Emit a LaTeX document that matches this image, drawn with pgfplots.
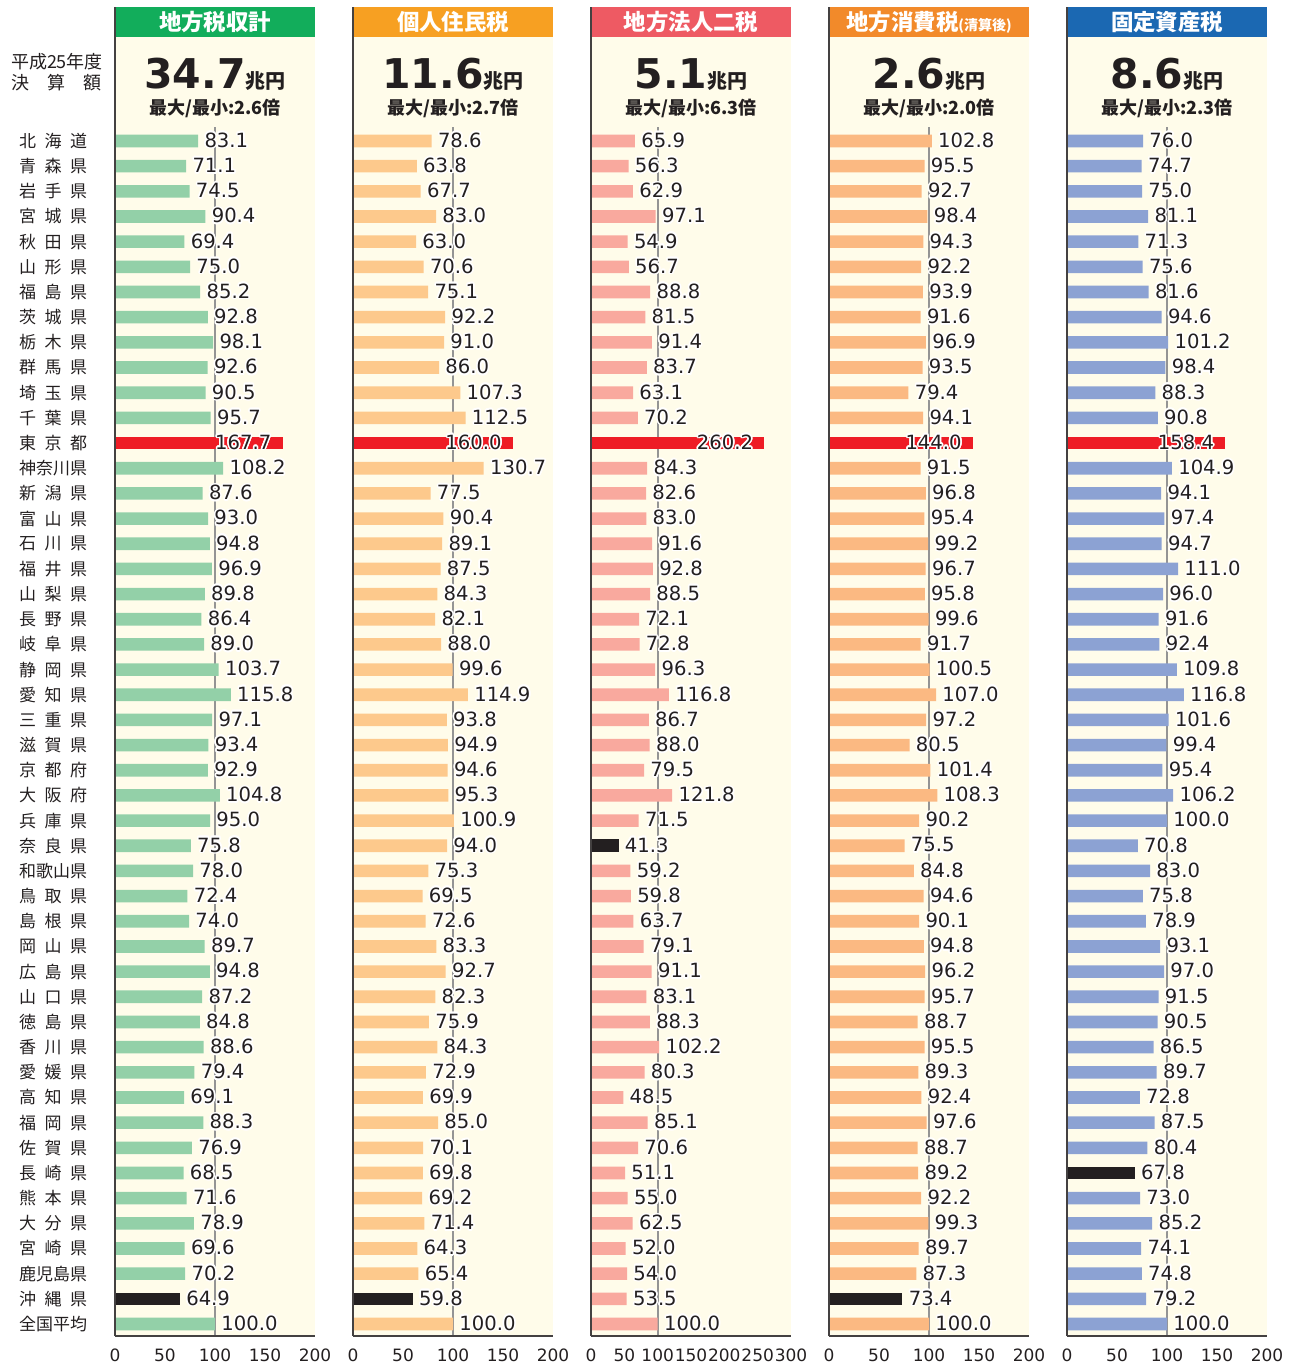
\documentclass[border=0pt]{standalone}
\usepackage{fontspec}
\setmainfont{DejaVu Sans}
\newfontfamily\jp{Noto Sans CJK JP}
\newfontfamily\num{DejaVu Sans}
\usepackage{pgfplots}
\pgfplotsset{compat=1.18}
\usepackage{pgfplotstable}
\usepackage{contour}
\contourlength{0.8pt}
\definecolor{cream}{HTML}{FFFCEA}
\definecolor{txt}{HTML}{231F20}
\definecolor{tred}{HTML}{EE1C25}
\definecolor{tblack}{HTML}{231F20}
\definecolor{ghdr}{HTML}{12AD5B}\definecolor{gbar}{HTML}{93D0A8}
\definecolor{ohdr}{HTML}{F7A022}\definecolor{obar}{HTML}{FDC98C}
\definecolor{rhdr}{HTML}{EE5A63}\definecolor{rbar}{HTML}{F9A99E}
\definecolor{phdr}{HTML}{F28A2A}\definecolor{pbar}{HTML}{FBB982}
\definecolor{bhdr}{HTML}{1B68B2}\definecolor{bbar}{HTML}{8CA2D3}
\newcommand\pn[3]{#1\hspace{0.5em}#2\hspace{0.5em}#3}
\pgfplotstableread{
y v1 v2 v3 v4 v5
48 83.1 78.6 65.9 102.8 76.0
47 71.1 63.8 56.3 95.5 74.7
46 74.5 67.7 62.9 92.7 75.0
45 90.4 83.0 97.1 98.4 81.1
44 69.4 63.0 54.9 94.3 71.3
43 75.0 70.6 56.7 92.2 75.6
42 85.2 75.1 88.8 93.9 81.6
41 92.8 92.2 81.5 91.6 94.6
40 98.1 91.0 91.4 96.9 101.2
39 92.6 86.0 83.7 93.5 98.4
38 90.5 107.3 63.1 79.4 88.3
37 95.7 112.5 70.2 94.1 90.8
36 167.7 160.0 260.2 144.0 158.4
35 108.2 130.7 84.3 91.5 104.9
34 87.6 77.5 82.6 96.8 94.1
33 93.0 90.4 83.0 95.4 97.4
32 94.8 89.1 91.6 99.2 94.7
31 96.9 87.5 92.8 96.7 111.0
30 89.8 84.3 88.5 95.8 96.0
29 86.4 82.1 72.1 99.6 91.6
28 89.0 88.0 72.8 91.7 92.4
27 103.7 99.6 96.3 100.5 109.8
26 115.8 114.9 116.8 107.0 116.8
25 97.1 93.8 86.7 97.2 101.6
24 93.4 94.9 88.0 80.5 99.4
23 92.9 94.6 79.5 101.4 95.4
22 104.8 95.3 121.8 108.3 106.2
21 95.0 100.9 71.5 90.2 100.0
20 75.8 94.0 41.3 75.5 70.8
19 78.0 75.3 59.2 84.8 83.0
18 72.4 69.5 59.8 94.6 75.8
17 74.0 72.6 63.7 90.1 78.9
16 89.7 83.3 79.1 94.8 93.1
15 94.8 92.7 91.1 96.2 97.0
14 87.2 82.3 83.1 95.7 91.5
13 84.8 75.9 88.3 88.7 90.5
12 88.6 84.3 102.2 95.5 86.5
11 79.4 72.9 80.3 89.3 89.7
10 69.1 69.9 48.5 92.4 72.8
9 88.3 85.0 85.1 97.6 87.5
8 76.9 70.1 70.6 88.7 80.4
7 68.5 69.8 51.1 89.2 67.8
6 71.6 69.2 55.0 92.2 73.0
5 78.9 71.4 62.5 99.3 85.2
4 69.6 64.3 52.0 89.7 74.1
3 70.2 65.4 54.0 87.3 74.8
2 64.9 59.8 53.5 73.4 79.2
1 100.0 100.0 100.0 100.0 100.0
}\data
\pgfplotsset{
 panel/.style={
  scale only axis, width=100pt, height=649.5pt, anchor=south west,
  xmin=0, ymin=0.523, ymax=52.132,
  axis background/.style={fill=cream},
  axis line style={draw=none},
  tick style={draw=none},
  ytick=\empty,
  clip=false,
  xticklabel style={font=\fontsize{8.5}{10}\selectfont, text=txt, inner sep=0pt, yshift=-6pt},
  xbar,
  point meta=x,
  nodes near coords={\contour{white}{\pgfmathprintnumber[fixed,fixed zerofill,precision=1,assume math mode=true]{\pgfplotspointmeta}}},
  every node near coord/.append style={font=\fontsize{9.8}{10}\selectfont, text=txt, inner sep=0pt, anchor=west, xshift=3pt},
 },
 mybar/.style={bar shift=0pt, bar width=6.3pt, draw=none},
 inbar/.style={every node near coord/.append style={anchor=east, xshift=-8.5pt}},
}
\tikzset{axline/.style={draw=txt!85, line width=0.8pt}, l100/.style={draw=black!42, line width=1pt}}
\newcommand\panelhead[4]{%
 \draw[l100] (axis cs:100,48.556) -- (axis cs:100,0.523);
 \fill[#1] (rel axis cs:0,1) rectangle ([yshift=15pt]rel axis cs:1,1);
 \node[text=white,font=\jp\bfseries\fontsize{11.2}{13}\selectfont] at ([yshift=7.5pt]rel axis cs:0.5,1) {#2};
 \node[anchor=base,inner sep=0pt,text=txt] at (rel axis cs:0.5,0.9607) {{\num\bfseries\fontsize{20.5}{21}\selectfont #3}{\jp\bfseries\fontsize{10}{12}\selectfont 兆円}};
 \node[anchor=base,inner sep=0pt,text=txt,font=\jp\bfseries\fontsize{9}{11}\selectfont] at (rel axis cs:0.5,0.9407) {最大/最小:#4倍};
}
\newcommand\panelaxes{%
 \draw[axline] (rel axis cs:0,0) -- (rel axis cs:1,0);
 \draw[axline] (rel axis cs:0,0) -- ([yshift=15pt]rel axis cs:0,1);
}
\begin{document}
\begin{tikzpicture}
\useasboundingbox (0,0) rectangle (647.5pt,-682.5pt);
% Panel 1
\begin{axis}[panel, at={(57.5pt,-668pt)}, xmax=200, xtick={0,50,100,150,200}, xticklabels={0,50,100,150,200},
 ytick={1,...,48},
 yticklabels={全国平均,\pn{沖}{縄}{県},鹿児島県,\pn{宮}{崎}{県},\pn{大}{分}{県},\pn{熊}{本}{県},\pn{長}{崎}{県},\pn{佐}{賀}{県},\pn{福}{岡}{県},\pn{高}{知}{県},\pn{愛}{媛}{県},\pn{香}{川}{県},\pn{徳}{島}{県},\pn{山}{口}{県},\pn{広}{島}{県},\pn{岡}{山}{県},\pn{島}{根}{県},\pn{鳥}{取}{県},和歌山県,\pn{奈}{良}{県},\pn{兵}{庫}{県},\pn{大}{阪}{府},\pn{京}{都}{府},\pn{滋}{賀}{県},\pn{三}{重}{県},\pn{愛}{知}{県},\pn{静}{岡}{県},\pn{岐}{阜}{県},\pn{長}{野}{県},\pn{山}{梨}{県},\pn{福}{井}{県},\pn{石}{川}{県},\pn{富}{山}{県},\pn{新}{潟}{県},神奈川県,\pn{東}{京}{都},\pn{千}{葉}{県},\pn{埼}{玉}{県},\pn{群}{馬}{県},\pn{栃}{木}{県},\pn{茨}{城}{県},\pn{福}{島}{県},\pn{山}{形}{県},\pn{秋}{田}{県},\pn{宮}{城}{県},\pn{岩}{手}{県},\pn{青}{森}{県},\pn{北}{海}{道}},
 yticklabel style={font=\jp\fontsize{8.5}{10}\selectfont, text=txt, inner sep=0pt, anchor=east, xshift=-9.5pt}]
 \panelhead{ghdr}{地方税収計}{34.7}{2.6}
 \addplot[mybar, fill=gbar, skip coords between index={12}{13}, skip coords between index={46}{47}] table[x=v1,y=y]{\data};
 \addplot[mybar, fill=tred, inbar, skip coords between index={0}{12}, skip coords between index={13}{48}] table[x=v1,y=y]{\data};
 \addplot[mybar, fill=tblack, skip coords between index={0}{46}, skip coords between index={47}{48}] table[x=v1,y=y]{\data};
 \panelaxes
 \node[font=\jp\fontsize{9}{11}\selectfont, text=txt] at (axis cs:-58,51.14) {平成25年度};
 \node[font=\jp\fontsize{9}{11}\selectfont, text=txt] at (axis cs:-58,50.30) {決\hspace{1em}算\hspace{1em}額};
\end{axis}
% Panel 2
\begin{axis}[panel, at={(176.5pt,-668pt)}, xmax=200, xtick={0,50,100,150,200}, xticklabels={0,50,100,150,200}]
 \panelhead{ohdr}{個人住民税}{11.6}{2.7}
 \addplot[mybar, fill=obar, skip coords between index={12}{13}, skip coords between index={46}{47}] table[x=v2,y=y]{\data};
 \addplot[mybar, fill=tred, inbar, skip coords between index={0}{12}, skip coords between index={13}{48}] table[x=v2,y=y]{\data};
 \addplot[mybar, fill=tblack, skip coords between index={0}{46}, skip coords between index={47}{48}] table[x=v2,y=y]{\data};
 \panelaxes
\end{axis}
% Panel 3
\begin{axis}[panel, at={(295.5pt,-668pt)}, xmax=300, xtick={0,50,100,150,200,250,300}, xticklabels={0,50,100,150,200,250,300}]
 \panelhead{rhdr}{地方法人二税}{5.1}{6.3}
 \addplot[mybar, fill=rbar, skip coords between index={12}{13}, skip coords between index={28}{29}] table[x=v3,y=y]{\data};
 \addplot[mybar, fill=tred, inbar, skip coords between index={0}{12}, skip coords between index={13}{48}] table[x=v3,y=y]{\data};
 \addplot[mybar, fill=tblack, skip coords between index={0}{28}, skip coords between index={29}{48}] table[x=v3,y=y]{\data};
 \panelaxes
\end{axis}
% Panel 4
\begin{axis}[panel, at={(414.5pt,-668pt)}, xmax=200, xtick={0,50,100,150,200}, xticklabels={0,50,100,150,200}]
 \panelhead{phdr}{地方消費税{\fontsize{7}{8}\selectfont (清算後)}}{2.6}{2.0}
 \addplot[mybar, fill=pbar, skip coords between index={12}{13}, skip coords between index={46}{47}] table[x=v4,y=y]{\data};
 \addplot[mybar, fill=tred, inbar, skip coords between index={0}{12}, skip coords between index={13}{48}] table[x=v4,y=y]{\data};
 \addplot[mybar, fill=tblack, skip coords between index={0}{46}, skip coords between index={47}{48}] table[x=v4,y=y]{\data};
 \panelaxes
\end{axis}
% Panel 5
\begin{axis}[panel, at={(533.5pt,-668pt)}, xmax=200, xtick={0,50,100,150,200}, xticklabels={0,50,100,150,200}]
 \panelhead{bhdr}{固定資産税}{8.6}{2.3}
 \addplot[mybar, fill=bbar, skip coords between index={12}{13}, skip coords between index={41}{42}] table[x=v5,y=y]{\data};
 \addplot[mybar, fill=tred, inbar, skip coords between index={0}{12}, skip coords between index={13}{48}] table[x=v5,y=y]{\data};
 \addplot[mybar, fill=tblack, skip coords between index={0}{41}, skip coords between index={42}{48}] table[x=v5,y=y]{\data};
 \panelaxes
\end{axis}
\end{tikzpicture}
\end{document}
